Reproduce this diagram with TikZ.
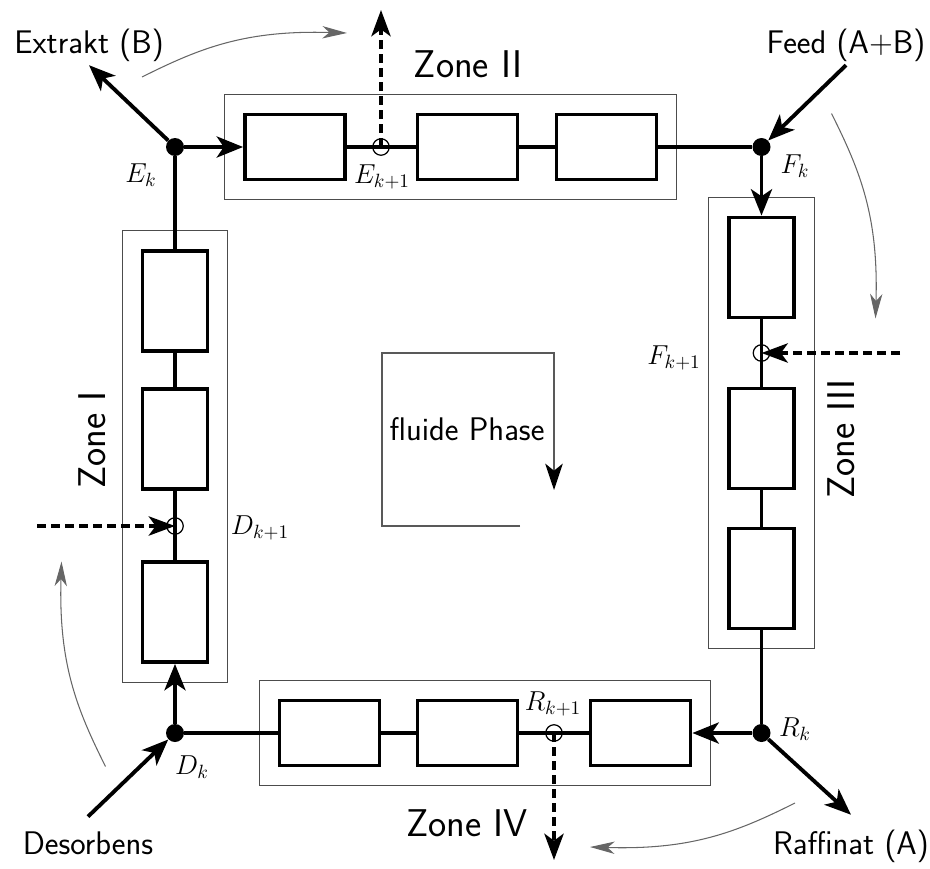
\RequirePackage{fix-cm}
\documentclass[tikz,border=0pt]{standalone}
\usetikzlibrary{arrows.meta,fit}

\begin{document}
\begin{tikzpicture}[
  x=0.02cm, y=-0.02cm,
  column/.style={draw,line width=2.2pt,minimum width=2cm,minimum height=1.3cm,inner sep=0pt},
  vcolumn/.style={column,minimum width=1.3cm,minimum height=2cm},
  zone/.style={draw=black!70,line width=0.6pt,inner sep=0.37cm},
  junction/.style={circle,fill=black,minimum size=0.36cm,inner sep=0pt},
  port/.style={circle,draw,line width=0.7pt,minimum size=0.33cm,inner sep=0pt},
  pipe/.style={line width=2.2pt},
  flow/.style={pipe,-{Stealth[length=15pt,width=12pt,inset=4pt]}},
  switched/.style={line width=2pt,dash pattern=on 5pt off 3pt,-{Stealth[length=15pt,width=11pt,inset=4pt]}},
  portshift/.style={draw=black!60,line width=0.6pt,-{Stealth[length=14pt,width=7pt,inset=4pt]}},
  stream/.style={font=\fontsize{18.6}{22}\selectfont\sffamily,inner sep=2pt},
  zonename/.style={font=\fontsize{22}{26}\selectfont\sffamily,inner sep=0pt},
  tap/.style={font=\fontsize{15.6}{18}\selectfont,inner sep=1pt}
]
  \useasboundingbox (0,0) rectangle (930,869);

  \node[column] (z2a) at (295,147) {};
  \node[column] (z2b) at (467.5,147) {};
  \node[column] (z2c) at (606.5,147) {};
  \node[vcolumn] (z3a) at (761.5,267.5) {};
  \node[vcolumn] (z3b) at (761.5,438.5) {};
  \node[vcolumn] (z3c) at (761.5,578.5) {};
  \node[column] (z4a) at (329.5,733) {};
  \node[column] (z4b) at (467.5,733) {};
  \node[column] (z4c) at (640.5,733) {};
  \node[vcolumn] (z1a) at (175,301) {};
  \node[vcolumn] (z1b) at (175,439) {};
  \node[vcolumn] (z1c) at (175,612) {};

  \node[zone,fit=(z2a)(z2c)] (zone2) {};
  \node[zone,fit=(z3a)(z3c)] (zone3) {};
  \node[zone,fit=(z4a)(z4c)] (zone4) {};
  \node[zone,fit=(z1a)(z1c)] (zone1) {};

  \node[zonename] (zone2name) at (468,64) {Zone II};
  \node[zonename,rotate=90] (zone3name) at (841,439) {Zone III};
  \node[zonename] (zone4name) at (467,823) {Zone IV};
  \node[zonename,rotate=90] (zone1name) at (92,440) {Zone I};

  \node[junction] (ek) at (175,147) {};
  \node[junction] (fk) at (761.5,147) {};
  \node[junction] (rk) at (761.5,733) {};
  \node[junction] (dk) at (175,733) {};

  \node[port] (e1) at (381,147) {};
  \node[port] (f1) at (761.5,353) {};
  \node[port] (r1) at (554,733) {};
  \node[port] (d1) at (175,526) {};

  \node[tap] at (141,175) {$E_k$};
  \node[tap] at (382,177) {$E_{k+1}$};
  \node[tap] at (795,166) {$F_k$};
  \node[tap] at (674,358) {$F_{k+1}$};
  \node[tap] at (795,729) {$R_k$};
  \node[tap] at (553,704) {$R_{k+1}$};
  \node[tap] at (192,767) {$D_k$};
  \node[tap] at (260,528) {$D_{k+1}$};

  \node[stream] (extrakt) at (89,45) {Extrakt (B)};
  \node[stream] (feed) at (846,45) {Feed (A+B)};
  \node[stream,outer ysep=6.5pt] (raffinat) at (851,846) {Raffinat (A)};
  \node[stream,outer ysep=6.5pt] (desorbens) at (88,843) {Desorbens};

  \draw[flow] (ek) -- (z2a);
  \draw[pipe] (z2a) -- (z2b) -- (z2c) -- (fk);
  \draw[flow] (fk) -- (z3a);
  \draw[pipe] (z3a) -- (z3b) -- (z3c) -- (rk);
  \draw[flow] (rk) -- (z4c);
  \draw[pipe] (z4c) -- (z4b) -- (z4a) -- (dk);
  \draw[flow] (dk) -- (z1c);
  \draw[pipe] (z1c) -- (z1b) -- (z1a) -- (ek);

  \draw[flow] (ek) -- (extrakt.south);
  \draw[flow] (feed.south) -- (fk);
  \draw[flow] (rk) -- (raffinat.north);
  \draw[flow] (desorbens.north) -- (dk);

  \coordinate (e1out) at (381,10);
  \coordinate (f1in) at (900,353);
  \coordinate (r1out) at (554,860);
  \coordinate (d1in) at (37,526);
  \draw[switched] (e1.center) -- (e1out);
  \draw[switched] (f1in) -- (f1.center);
  \draw[switched] (r1.center) -- (r1out);
  \draw[switched] (d1in) -- (d1.center);

  \draw[portshift] (142,77) .. controls (200,48) and (245,30) .. (347,33);
  \draw[portshift] (831.5,113.5) .. controls (860.5,171.5) and (878.5,216.5) .. (875.5,318.5);
  \draw[portshift] (795,803) .. controls (737,832) and (692,850) .. (590,847);
  \draw[portshift] (105.5,766.5) .. controls (76.5,708.5) and (58.5,663.5) .. (61.5,561.5);

  \node[stream] (phase) at (467,429) {fluide Phase};
  \draw[draw=black!65,line width=0.8pt,-{Stealth[black,length=15pt,width=10pt,inset=4pt]}]
    (520,526) -- (382,526) -- (382,353) -- (554,353) -- (554,490);
\end{tikzpicture}
\end{document}
